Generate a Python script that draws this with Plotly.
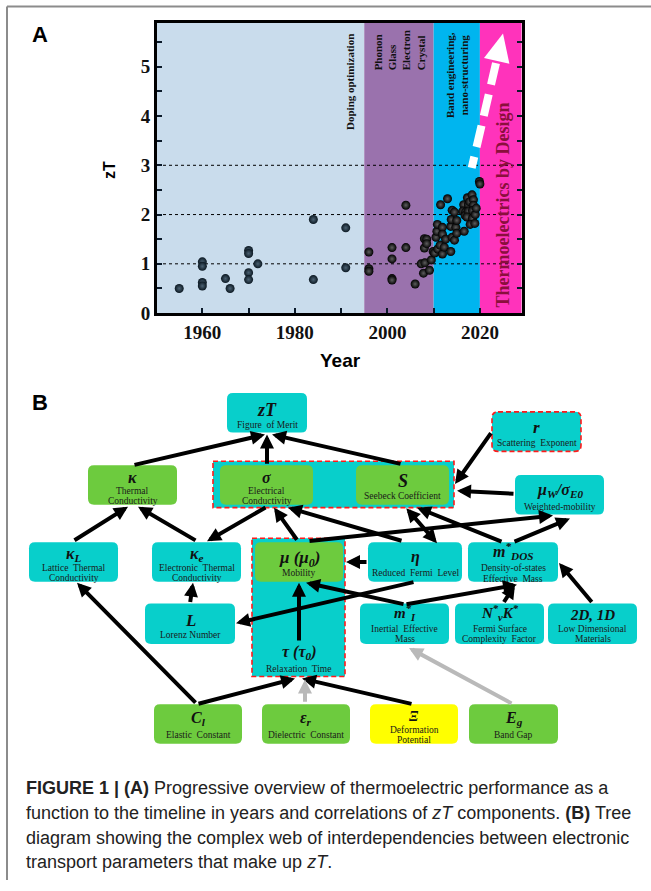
import plotly.graph_objects as go

W, H = 651, 891

# ---------------- Panel A data ----------------
years = [1955, 1960, 1960, 1960, 1960, 1965, 1966, 1970, 1970, 1970, 1970, 1972,
         1984, 1984, 1991, 1991,
         1996, 1996, 1996, 2001, 2001, 2001, 2001, 2004, 2004, 2006,
         2007.3, 2007.8, 2008.0, 2008.0, 2008.1, 2008.5, 2008.5, 2009.1, 2009.5, 2009.9,
         2010.2, 2010.5, 2010.7, 2010.8, 2010.9, 2011.4, 2011.5, 2011.9, 2011.9, 2011.9,
         2012.3, 2012.6, 2013.0, 2013.7, 2013.7, 2013.8, 2014.0, 2014.0, 2014.5, 2014.5,
         2014.8, 2015.0, 2015.0, 2016.6, 2016.5, 2016.3, 2016.9, 2016.8, 2017.3, 2017.5,
         2017.5, 2017.2, 2017.8, 2018.3, 2018.6, 2018.6, 2018.4, 2018.4, 2017.9, 2018.9,
         2019.0, 2019.2, 2019.9, 2020.0]
zt = [0.50, 1.04, 0.95, 0.62, 0.55, 0.70, 0.50, 1.27, 1.21, 0.82, 0.68, 1.00,
      1.90, 0.68, 1.73, 0.92,
      1.24, 0.90, 0.85, 1.33, 1.10, 0.70, 0.67, 1.33, 2.19, 0.59,
      1.00, 0.81, 1.51, 1.32, 1.02, 1.50, 1.41, 0.87, 1.08, 1.25,
      1.22, 1.54, 1.66, 1.80, 1.30, 1.38, 2.20, 1.74, 1.60, 1.20,
      1.34, 1.50, 2.32, 1.76, 1.25, 1.90, 2.09, 1.54, 2.05, 1.48,
      1.74, 1.88, 1.62, 1.66, 2.20, 2.07, 2.05, 1.98, 2.34, 2.20,
      2.07, 1.95, 2.26, 2.40, 2.30, 2.19, 2.08, 1.92, 1.80, 1.82,
      2.00, 2.13, 2.67, 2.62]

x_tickvals = [1960, 1970, 1980, 1990, 2000, 2010, 2020]
x_ticktext = ['1960', '', '1980', '', '2000', '', '2020']
y_tickvals = [0, 0.5, 1, 1.5, 2, 2.5, 3, 3.5, 4, 4.5, 5, 5.5]
y_ticktext = ['0', '', '1', '', '2', '', '3', '', '4', '', '5', '']
grid_levels = [1, 2, 3]

era_names = ['Doping optimization', 'Phonon<br>Glass<br>Electron<br>Crystal',
             'Band engineering,<br>nano-structuring', 'Thermoelectrics by Design']
era_start = [1950, 1995, 2010, 2020]
era_end = [1995, 2010, 2020, 2029]

# ---------------- Panel B data ----------------
node_keys = ['zT', 'kap', 'sig', 'S', 'r', 'muW', 'kL', 'ke', 'mu', 'eta', 'mD',
             'L', 'tau', 'mI', 'NK', 'D', 'Cl', 'er', 'Xi', 'Eg']
node_symbols = ['<b><i>zT</i></b>', '<b><i>κ</i></b>', '<b><i>σ</i></b>', '<b><i>S</i></b>',
                '<b><i>r</i></b>', '<b><i>μ<sub>W</sub>/σ<sub>E0</sub></i></b>',
                '<b><i>κ<sub>L</sub></i></b>', '<b><i>κ<sub>e</sub></i></b>',
                '<b><i>μ (μ<sub>0</sub>)</i></b>', '<b><i>η</i></b>',
                '<b><i>m<sup>*</sup><sub>DOS</sub></i></b>', '<b><i>L</i></b>',
                '<b><i>τ (τ<sub>0</sub>)</i></b>', '<b><i>m<sup>*</sup><sub>I</sub></i></b>',
                '<b><i>N<sup>*</sup><sub>v</sub>K<sup>*</sup></i></b>', '<b><i>2D, 1D</i></b>',
                '<b><i>C<sub>l</sub></i></b>', '<b><i>ε<sub>r</sub></i></b>',
                '<b><i>Ξ</i></b>', '<b><i>E<sub>g</sub></i></b>']
node_names = [['Figure  of Merit'], ['Thermal', 'Conductivity'], ['Electrical', 'Conductivity'],
              ['Seebeck Coefficient'], ['Scattering  Exponent'], ['Weighted-mobility'],
              ['Lattice  Thermal', 'Conductivity'], ['Electronic  Thermal', 'Conductivity'],
              ['Mobility'], ['Reduced  Fermi  Level'], ['Density-of-states', 'Effective  Mass'],
              ['Lorenz Number'], ['Relaxation  Time'], ['Inertial  Effective', 'Mass'],
              ['Fermi Surface', 'Complexity  Factor'], ['Low Dimensional', 'Materials'],
              ['Elastic  Constant'], ['Dielectric  Constant'], ['Deformation', 'Potential'],
              ['Band Gap']]
node_kind = ['c', 'g', 'g', 'g', 'c', 'c', 'c', 'c', 'g', 'c', 'c', 'c', None, 'c', 'c', 'c',
             'g', 'g', 'y', 'g']
# links: (from, to, kind)  kind: 'k' black, 'g' grey, 'b' bidirectional
links = [('kap', 'zT', 'k'), ('sig', 'zT', 'k'), ('S', 'zT', 'k'), ('r', 'S', 'k'),
         ('muW', 'S', 'k'), ('kL', 'kap', 'k'), ('ke', 'kap', 'k'), ('sig', 'ke', 'k'),
         ('mu', 'sig', 'k'), ('eta', 'sig', 'k'), ('mu', 'muW', 'k'), ('S', 'eta', 'b'),
         ('mD', 'S', 'k'), ('mD', 'muW', 'k'), ('eta', 'mu', 'k'), ('eta', 'L', 'k'),
         ('mI', 'mu', 'k'), ('mI', 'mD', 'k'), ('NK', 'mD', 'k'), ('D', 'mD', 'k'),
         ('L', 'ke', 'k'), ('Cl', 'kL', 'k'), ('Cl', 'tau', 'k'), ('Xi', 'tau', 'k'),
         ('er', 'tau', 'g'), ('Eg', 'mI', 'g'), ('tau', 'mu', 'k')]

caption_lines = [
    '<b>FIGURE 1 | (A)</b> Progressive overview of thermoelectric performance as a',
    'function to the timeline in years and correlations of <i>zT</i> components. <b>(B)</b> Tree',
    'diagram showing the complex web of interdependencies between electronic',
    'transport parameters that make up <i>zT</i>.']

# ---------------- layout geometry (pixels) ----------------
BOX = {'zT': (227, 307, 398, 438), 'kap': (88, 177, 471, 511), 'sig': (220, 313, 471, 511),
       'S': (356, 449, 471, 511), 'r': (492, 581, 417, 457), 'muW': (515, 604, 481, 521),
       'kL': (29, 118, 549, 589), 'ke': (152, 241, 549, 589), 'mu': (255, 343, 549, 589),
       'eta': (368, 462, 549, 589), 'mD': (468, 558, 549, 589), 'L': (145, 235, 611, 652),
       'tau': (252, 345, 645, 685), 'mI': (360, 449, 611, 652), 'NK': (455, 544, 611, 652),
       'D': (548, 637, 611, 652), 'Cl': (154, 242, 713, 753), 'er': (262, 350, 713, 753),
       'Xi': (370, 458, 713, 753), 'Eg': (469, 558, 713, 753)}
TXT = {'zT': (415, 18, [430]), 'kap': (483, 16, [497, 507]), 'sig': (483, 16, [497, 507]),
       'S': (487, 18, [502]), 'r': (433, 17, [449]), 'muW': (497, 16, [513]),
       'kL': (561, 16, [575, 585]), 'ke': (561, 16, [575, 585]), 'mu': (566, 17, [580]),
       'eta': (564, 16, [580]), 'mD': (558, 16, [575, 586]), 'L': (628, 17, [643]),
       'tau': (661, 16, [677]), 'mI': (621, 15, [637, 647]), 'NK': (621, 15, [637, 647]),
       'D': (623, 15, [637, 647]), 'Cl': (727, 16, [744]), 'er': (727, 16, [744]),
       'Xi': (725, 14, [739, 749]), 'Eg': (727, 16, [744])}
ARR = {('kap', 'zT'): (133, 471, 265, 440), ('sig', 'zT'): (267, 471, 267, 440),
       ('S', 'zT'): (402, 470, 272, 440), ('r', 'S'): (492, 437, 455, 490),
       ('muW', 'S'): (515, 500, 457, 497), ('kL', 'kap'): (73, 548, 128, 513),
       ('ke', 'kap'): (197, 548, 138, 513), ('sig', 'ke'): (267, 513, 207, 548),
       ('mu', 'sig'): (298, 548, 274, 514), ('eta', 'sig'): (403, 548, 288, 514),
       ('mu', 'muW'): (308, 548, 553, 522), ('S', 'eta'): (405, 513, 437, 550),
       ('mD', 'S'): (503, 549, 417, 514), ('mD', 'muW'): (513, 549, 570, 525),
       ('eta', 'mu'): (368, 569, 346, 569), ('eta', 'L'): (415, 589, 236, 631),
       ('mI', 'mu'): (405, 612, 306, 590), ('mI', 'mD'): (405, 612, 517, 592),
       ('NK', 'mD'): (503, 611, 515, 592), ('D', 'mD'): (593, 611, 559, 570),
       ('L', 'ke'): (190, 611, 193, 590), ('Cl', 'kL'): (197, 713, 77, 590),
       ('Cl', 'tau'): (197, 713, 295, 687), ('Xi', 'tau'): (413, 713, 302, 687),
       ('er', 'tau'): (305, 712, 305, 688), ('Eg', 'mI'): (513, 713, 409, 656),
       ('tau', 'mu'): (299, 650, 299, 590)}
FILL = {'c': '#08cfcb', 'g': '#6dcb3e', 'y': '#ffff00'}

AX = (157, 522, 23, 317)  # panel A plot area in pixels


def px2paper_x(p):
    return p / W


def px2paper_y(p):
    return 1 - p / H


def rpath(x0, x1, y0, y1, r=5):
    return (f"M{x0+r},{y0} L{x1-r},{y0} Q{x1},{y0} {x1},{y0+r} L{x1},{y1-r} "
            f"Q{x1},{y1} {x1-r},{y1} L{x0+r},{y1} Q{x0},{y1} {x0},{y1-r} "
            f"L{x0},{y0+r} Q{x0},{y0} {x0+r},{y0} Z")


fig = go.Figure()

# scatter points (older ones dark slate, newer black)
early_x = [x for x in years if x < 1995]
early_y = [z for x, z in zip(years, zt) if x < 1995]
late_x = [x for x in years if x >= 1995]
late_y = [z for x, z in zip(years, zt) if x >= 1995]
fig.add_trace(go.Scatter(x=early_x, y=early_y, mode='markers', hoverinfo='skip',
                         marker=dict(size=9, color='#0b1822', line=dict(width=0),
                                     gradient=dict(type='radial', color='#4c6273'))))
fig.add_trace(go.Scatter(x=late_x, y=late_y, mode='markers', hoverinfo='skip',
                         marker=dict(size=9, color='#000000', line=dict(width=0),
                                     gradient=dict(type='radial', color='#5e5e5e'))))
# invisible trace for overlay pixel axes
fig.add_trace(go.Scatter(x=[0], y=[0], xaxis='x2', yaxis='y2', mode='markers',
                         marker=dict(opacity=0), hoverinfo='skip'))

shapes = []
band_colors = ['#c9dcec', '#9a72ad', '#00b5ef', '#ff33bb']
for s, e, c in zip(era_start, era_end, band_colors):
    shapes.append(dict(type='rect', xref='x', yref='y domain', x0=s, x1=e, y0=0, y1=1,
                       fillcolor=c, line=dict(width=0), layer='below'))
for g in grid_levels:
    shapes.append(dict(type='line', xref='x domain', yref='y', x0=0, x1=1, y0=g, y1=g,
                       line=dict(color='black', width=1, dash='dot'), layer='below'))

# white dashed trend arrow (pixel overlay)
shapes.append(dict(type='line', xref='x2', yref='y2', x0=496, y0=64, x1=471.7, y1=170,
                   line=dict(color='white', width=8, dash='22px,10px'), layer='above'))
shapes.append(dict(type='path', xref='x2', yref='y2',
                   path='M503,34 L484,58.8 L509.4,64.6 Z', fillcolor='white',
                   line=dict(width=0), layer='above'))

# page frame (paper coordinates)
shapes.append(dict(type='line', xref='paper', yref='paper', x0=px2paper_x(7), x1=1,
                   y0=px2paper_y(6.5), y1=px2paper_y(6.5),
                   line=dict(color='#8c8c8c', width=2), layer='above'))
shapes.append(dict(type='line', xref='paper', yref='paper', x0=px2paper_x(7), x1=px2paper_x(7),
                   y0=px2paper_y(6.5), y1=0,
                   line=dict(color='#8c8c8c', width=2), layer='above'))

# group frames in panel B
for (x0, x1, y0, y1) in [(213, 454, 467, 514), (252, 345, 545, 685)]:
    shapes.append(dict(type='rect', xref='x2', yref='y2', x0=x0, x1=x1, y0=y0, y1=y1,
                       fillcolor=FILL['c'], line=dict(color='#ff1a1a', width=1.6, dash='5px,3px'),
                       layer='above'))

for k, kind in zip(node_keys, node_kind):
    if kind is None:
        continue
    x0, x1, y0, y1 = BOX[k]
    if k == 'r':
        shapes.append(dict(type='path', xref='x2', yref='y2', path=rpath(x0, x1, y0, y1, 6),
                           fillcolor=FILL[kind],
                           line=dict(color='#ff1a1a', width=1.6, dash='5px,3px'), layer='above'))
    else:
        shapes.append(dict(type='path', xref='x2', yref='y2', path=rpath(x0, x1, y0, y1, 6),
                           fillcolor=FILL[kind], line=dict(width=0), layer='above'))

ann = []
# panel letters and axis titles
ann.append(dict(x=40, y=35, xref='x2', yref='y2', text='<b>A</b>', showarrow=False,
                font=dict(family='Liberation Sans, Arial', size=22, color='black')))
ann.append(dict(x=40, y=408, xref='x2', yref='y2', text='<b>B</b>', showarrow=False,
                font=dict(family='Liberation Sans, Arial', size=22, color='black')))
ann.append(dict(x=110, y=172, xref='x2', yref='y2', text='<b>zT</b>', showarrow=False,
                textangle=-90, font=dict(family='Liberation Sans, Arial', size=16, color='black')))
ann.append(dict(x=340, y=365, xref='x2', yref='y2', text='<b>Year</b>', showarrow=False,
                font=dict(family='Liberation Sans, Arial', size=19, color='black')))

# era labels
era_pos = [(350, 83, 11, 'center', '#111111'), (399, 51, 11, 'left', '#111111'),
           (457, 76, 11, 'center', '#111111'), (503, 208, 18, 'center', '#8a0f3c')]
for name, (px, py, fs, al, col) in zip(era_names, era_pos):
    ann.append(dict(x=px, y=py, xref='x2', yref='y2', text='<b>' + name + '</b>',
                    showarrow=False, textangle=-90, align=al,
                    font=dict(family='Liberation Serif, Times New Roman', size=fs, color=col)))

# node texts
for k, sym, names in zip(node_keys, node_symbols, node_names):
    x0, x1, y0, y1 = BOX[k]
    cx = (x0 + x1) / 2
    ys, fs, yl = TXT[k]
    ann.append(dict(x=cx, y=ys, xref='x2', yref='y2', text=sym, showarrow=False,
                    font=dict(family='Liberation Serif, Times New Roman', size=fs, color='#111111')))
    for nm, yy in zip(names, yl):
        ann.append(dict(x=cx, y=yy, xref='x2', yref='y2', text=nm, showarrow=False,
                        font=dict(family='Liberation Serif, Times New Roman', size=9.5,
                                  color='#1a1a1a')))

# arrows
for a, b, kind in links:
    x0, y0, x1, y1 = ARR[(a, b)]
    col = '#b9b9b9' if kind == 'g' else '#000000'
    ann.append(dict(x=x1, y=y1, ax=x0, ay=y0, xref='x2', yref='y2', axref='x2', ayref='y2',
                    text='', showarrow=True, arrowhead=2, arrowsize=0.7, arrowwidth=4,
                    arrowcolor=col, standoff=0, startstandoff=0,
                    arrowside='end+start' if kind == 'b' else 'end',
                    startarrowhead=2, startarrowsize=0.7))

# caption
for i, line in enumerate(caption_lines):
    ann.append(dict(x=24, y=798 + 25 * i, xref='x2', yref='y2', text=line, showarrow=False,
                    xanchor='left', yanchor='middle',
                    font=dict(family='Liberation Sans, Arial', size=18, color='#222222')))

fig.update_layout(
    width=W, height=H, margin=dict(l=0, r=0, t=0, b=0),
    paper_bgcolor='white', plot_bgcolor='rgba(0,0,0,0)', showlegend=False,
    xaxis=dict(domain=[px2paper_x(AX[0]), px2paper_x(AX[1])], range=[1950.2, 2029.1],
               tickvals=x_tickvals, ticktext=x_ticktext, ticks='inside', ticklen=5, tickwidth=2,
               tickcolor='#0a1a2a', showline=True, linecolor='black', linewidth=3, mirror=True,
               showgrid=False, zeroline=False, fixedrange=True,
               tickfont=dict(family='Liberation Serif, Times New Roman', size=19, color='#111111',
                             weight='bold')),
    yaxis=dict(domain=[px2paper_y(AX[3]), px2paper_y(AX[2])], range=[0, 5.894],
               tickvals=y_tickvals, ticktext=y_ticktext, ticks='inside', ticklen=5, tickwidth=2,
               tickcolor='#0a1a2a', showline=True, linecolor='black', linewidth=3, mirror='ticks',
               showgrid=False, zeroline=False, fixedrange=True,
               tickfont=dict(family='Liberation Serif, Times New Roman', size=19, color='#111111',
                             weight='bold')),
    xaxis2=dict(domain=[0, 1], range=[0, W], visible=False, anchor='y2', fixedrange=True),
    yaxis2=dict(domain=[0, 1], range=[H, 0], visible=False, anchor='x2', fixedrange=True),
    shapes=shapes, annotations=ann,
)

fig.write_html('out.html', config={'displayModeBar': False},
               post_script="document.body.style.margin='0';")
